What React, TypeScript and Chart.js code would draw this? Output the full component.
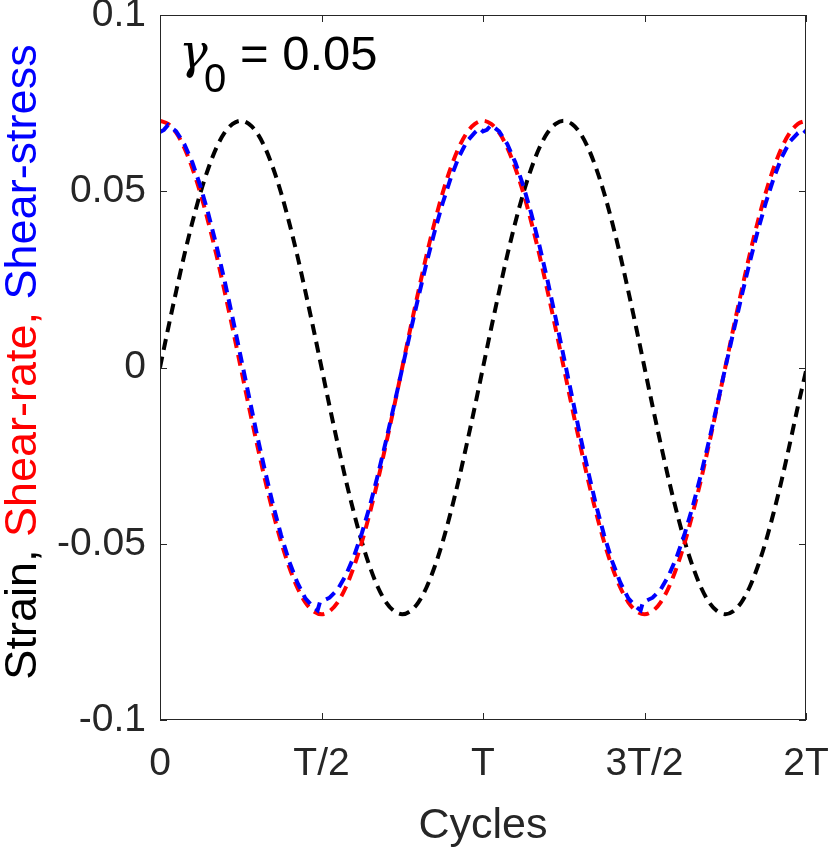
import React, { useEffect, useRef } from 'react';
import { Chart, registerables } from 'chart.js';

Chart.register(...registerables);

// time in units of the period T
const timeGrid = [
  0, 0.025, 0.05, 0.075, 0.1, 0.125, 0.15, 0.175, 0.2, 0.225,
  0.25, 0.275, 0.3, 0.325, 0.35, 0.375, 0.4, 0.425, 0.45, 0.475,
  0.5, 0.525, 0.55, 0.575, 0.6, 0.625, 0.65, 0.675, 0.7, 0.725,
  0.75, 0.775, 0.8, 0.825, 0.85, 0.875, 0.9, 0.925, 0.95, 0.975,
  1, 1.025, 1.05, 1.075, 1.1, 1.125, 1.15, 1.175, 1.2, 1.225,
  1.25, 1.275, 1.3, 1.325, 1.35, 1.375, 1.4, 1.425, 1.45, 1.475,
  1.5, 1.525, 1.55, 1.575, 1.6, 1.625, 1.65, 1.675, 1.7, 1.725,
  1.75, 1.775, 1.8, 1.825, 1.85, 1.875, 1.9, 1.925, 1.95, 1.975,
  2,
];

const strain = [
  0, 0.011, 0.0216, 0.0318, 0.0411, 0.0495, 0.0566, 0.0624, 0.0666, 0.0691,
  0.07, 0.0691, 0.0666, 0.0624, 0.0566, 0.0495, 0.0411, 0.0318, 0.0216, 0.011,
  0, -0.011, -0.0216, -0.0318, -0.0411, -0.0495, -0.0566, -0.0624, -0.0666, -0.0691,
  -0.07, -0.0691, -0.0666, -0.0624, -0.0566, -0.0495, -0.0411, -0.0318, -0.0216, -0.011,
  0, 0.011, 0.0216, 0.0318, 0.0411, 0.0495, 0.0566, 0.0624, 0.0666, 0.0691,
  0.07, 0.0691, 0.0666, 0.0624, 0.0566, 0.0495, 0.0411, 0.0318, 0.0216, 0.011,
  0, -0.011, -0.0216, -0.0318, -0.0411, -0.0495, -0.0566, -0.0624, -0.0666, -0.0691,
  -0.07, -0.0691, -0.0666, -0.0624, -0.0566, -0.0495, -0.0411, -0.0318, -0.0216, -0.011,
  -0.001,
];

const shearRate = [
  0.07, 0.0691, 0.0666, 0.0624, 0.0566, 0.0495, 0.0411, 0.0318, 0.0216, 0.011,
  0, -0.011, -0.0216, -0.0318, -0.0411, -0.0495, -0.0566, -0.0624, -0.0666, -0.0691,
  -0.07, -0.0691, -0.0666, -0.0624, -0.0566, -0.0495, -0.0411, -0.0318, -0.0216, -0.011,
  0, 0.011, 0.0216, 0.0318, 0.0411, 0.0495, 0.0566, 0.0624, 0.0666, 0.0691,
  0.07, 0.0691, 0.0666, 0.0624, 0.0566, 0.0495, 0.0411, 0.0318, 0.0216, 0.011,
  0, -0.011, -0.0216, -0.0318, -0.0411, -0.0495, -0.0566, -0.0624, -0.0666, -0.0691,
  -0.07, -0.0691, -0.0666, -0.0624, -0.0566, -0.0495, -0.0411, -0.0318, -0.0216, -0.011,
  0, 0.011, 0.0216, 0.0318, 0.0411, 0.0495, 0.0566, 0.0624, 0.0666, 0.0691,
  0.07,
];

// shear stress is sampled a bit finer near the peaks (small hooks there)
const stressTime = [
  0, 0.012, 0.025, 0.05, 0.075, 0.1, 0.125, 0.15, 0.175, 0.2,
  0.225, 0.25, 0.275, 0.3, 0.325, 0.35, 0.375, 0.4, 0.425, 0.45,
  0.475, 0.488, 0.495, 0.5, 0.525, 0.55, 0.575, 0.6, 0.625, 0.65,
  0.675, 0.7, 0.725, 0.75, 0.775, 0.8, 0.825, 0.85, 0.875, 0.9,
  0.925, 0.95, 0.975, 0.99,
  1, 1.012, 1.025, 1.05, 1.075, 1.1, 1.125, 1.15, 1.175, 1.2,
  1.225, 1.25, 1.275, 1.3, 1.325, 1.35, 1.375, 1.4, 1.425, 1.45,
  1.475, 1.488, 1.495, 1.5, 1.525, 1.55, 1.575, 1.6, 1.625, 1.65,
  1.675, 1.7, 1.725, 1.75, 1.775, 1.8, 1.825, 1.85, 1.875, 1.9,
  1.925, 1.95, 1.975, 1.99, 2,
];

const shearStress = [
  0.0668, 0.0674, 0.0688, 0.067, 0.0634, 0.0582, 0.0515, 0.0435, 0.0345, 0.0246,
  0.014, 0.003, -0.008, -0.019, -0.0293, -0.039, -0.0476, -0.055, -0.061, -0.0655,
  -0.068, -0.0689, -0.0666, -0.0664, -0.0653, -0.063, -0.059, -0.0537, -0.047, -0.0392,
  -0.0303, -0.0207, -0.0106, -0.0002, 0.01, 0.02, 0.0296, 0.0385, 0.0466, 0.0537,
  0.0597, 0.0641, 0.0667, 0.0679,
  0.067, 0.0674, 0.0688, 0.067, 0.0634, 0.0582, 0.0515, 0.0435, 0.0345, 0.0246,
  0.014, 0.003, -0.008, -0.019, -0.0293, -0.039, -0.0476, -0.055, -0.061, -0.0655,
  -0.068, -0.0689, -0.0666, -0.0664, -0.0653, -0.063, -0.059, -0.0537, -0.047, -0.0392,
  -0.0303, -0.0207, -0.0106, -0.0002, 0.01, 0.02, 0.0296, 0.0385, 0.0466, 0.0537,
  0.0597, 0.0641, 0.0665, 0.0675, 0.0667,
];

const xTickValues = [0, 0.5, 1, 1.5, 2];
const xTickLabels = ['0', 'T/2', 'T', '3T/2', '2T'];
const yTickValues = [-0.1, -0.05, 0, 0.05, 0.1];
const yTickLabels = ['-0.1', '-0.05', '0', '0.05', '0.1'];

const yLabelParts = [
  { text: 'Strain, ', color: '#000000' },
  { text: 'Shear-rate, ', color: '#ff0000' },
  { text: 'Shear-stress', color: '#0000ff' },
];

const AXIS = '#262626';
const SANS = '"Liberation Sans", Arial, sans-serif';

const toPoints = (xs: number[], ys: number[]) => xs.map((x, i) => ({ x, y: ys[i] }));

// box around the plot with inward ticks on all four sides, plus the labels
const decorations = {
  id: 'decorations',
  afterDatasetsDraw(chart: any) {
    const { ctx, chartArea: a, scales } = chart;
    const len = 7;
    ctx.save();
    ctx.strokeStyle = AXIS;
    ctx.lineWidth = 1;
    ctx.strokeRect(a.left + 0.5, a.top + 0.5, a.right - a.left - 1, a.bottom - a.top - 1);
    ctx.beginPath();
    xTickValues.forEach((v) => {
      const px = Math.round(scales.x.getPixelForValue(v)) + 0.5;
      ctx.moveTo(px, a.bottom);
      ctx.lineTo(px, a.bottom - len);
      ctx.moveTo(px, a.top);
      ctx.lineTo(px, a.top + len);
    });
    yTickValues.forEach((v) => {
      const py = Math.round(scales.y.getPixelForValue(v)) + 0.5;
      ctx.moveTo(a.left, py);
      ctx.lineTo(a.left + len, py);
      ctx.moveTo(a.right, py);
      ctx.lineTo(a.right - len, py);
    });
    ctx.stroke();

    // multi-coloured y-axis label
    ctx.font = `45px ${SANS}`;
    const total = yLabelParts.reduce((s, p) => s + ctx.measureText(p.text).width, 0);
    ctx.translate(36, 362);
    ctx.rotate(-Math.PI / 2);
    ctx.textBaseline = 'alphabetic';
    ctx.textAlign = 'left';
    let off = -total / 2;
    yLabelParts.forEach((p) => {
      ctx.fillStyle = p.color;
      ctx.fillText(p.text, off, 0);
      off += ctx.measureText(p.text).width;
    });
    ctx.restore();

    // annotation gamma_0 = 0.05
    ctx.save();
    ctx.fillStyle = '#000000';
    ctx.textBaseline = 'alphabetic';
    ctx.textAlign = 'left';
    ctx.font = `italic 48px "DejaVu Serif", serif`;
    ctx.fillText('γ', 179, 68);
    ctx.font = `40px ${SANS}`;
    ctx.fillText('0', 204, 92);
    ctx.font = `49px ${SANS}`;
    ctx.fillText('= 0.05', 240, 70);
    ctx.restore();
  },
};

const App: React.FC = () => {
  const canvasRef = useRef<HTMLCanvasElement | null>(null);
  const chartRef = useRef<Chart | null>(null);

  useEffect(() => {
    if (!canvasRef.current) return;
    const ctx = canvasRef.current.getContext('2d');
    if (!ctx) return;
    if (chartRef.current) chartRef.current.destroy();

    const dash = [11, 7];
    chartRef.current = new Chart(ctx, {
      type: 'line',
      data: {
        datasets: [
          {
            label: 'Strain',
            data: toPoints(timeGrid, strain),
            borderColor: '#000000',
            borderWidth: 4,
            borderDash: dash,
            pointRadius: 0,
            cubicInterpolationMode: 'monotone',
            order: 2,
          },
          {
            label: 'Shear-rate',
            data: toPoints(timeGrid, shearRate),
            borderColor: '#ff0000',
            borderWidth: 4,
            borderDash: dash,
            pointRadius: 0,
            cubicInterpolationMode: 'monotone',
            order: 1,
          },
          {
            label: 'Shear-stress',
            data: toPoints(stressTime, shearStress),
            borderColor: '#0000ff',
            borderWidth: 4,
            borderDash: dash,
            pointRadius: 0,
            tension: 0,
            order: 0,
          },
        ],
      },
      options: {
        animation: false,
        responsive: false,
        devicePixelRatio: 1,
        layout: { padding: { left: 0, top: 15, right: 24, bottom: 0 } },
        plugins: { legend: { display: false }, tooltip: { enabled: false } },
        scales: {
          x: {
            type: 'linear',
            min: 0,
            max: 2,
            grid: { display: false, drawTicks: false },
            border: { display: false },
            afterBuildTicks: (s: any) => {
              s.ticks = xTickValues.map((v) => ({ value: v }));
            },
            afterFit: (s: any) => {
              s.height = 133;
              s.paddingLeft = 0;
              s.paddingRight = 0;
            },
            ticks: {
              padding: 21,
              color: AXIS,
              font: { family: SANS, size: 39 },
              maxRotation: 0,
              autoSkip: false,
              callback: (v: any) => xTickLabels[xTickValues.indexOf(Number(v))] ?? '',
            },
            title: {
              display: true,
              text: 'Cycles',
              color: AXIS,
              font: { family: SANS, size: 43 },
              padding: { top: 0, bottom: 1 },
            },
          },
          y: {
            min: -0.1,
            max: 0.1,
            grid: { display: false, drawTicks: false },
            border: { display: false },
            afterBuildTicks: (s: any) => {
              s.ticks = yTickValues.map((v) => ({ value: v }));
            },
            afterFit: (s: any) => {
              s.width = 160;
              s.paddingTop = 0;
              s.paddingBottom = 0;
            },
            ticks: {
              padding: 14,
              color: AXIS,
              font: { family: SANS, size: 39 },
              autoSkip: false,
              callback: (v: any) => yTickLabels[yTickValues.indexOf(Number(v))] ?? '',
            },
          },
        },
      },
      plugins: [decorations],
    } as any);

    return () => {
      if (chartRef.current) {
        chartRef.current.destroy();
        chartRef.current = null;
      }
    };
  }, []);

  return (
    <div style={{ position: 'absolute', left: 0, top: 0, width: 830, height: 853, background: '#fff' }}>
      <canvas ref={canvasRef} width={830} height={853} style={{ width: 830, height: 853 }}></canvas>
    </div>
  );
};

export default App;
